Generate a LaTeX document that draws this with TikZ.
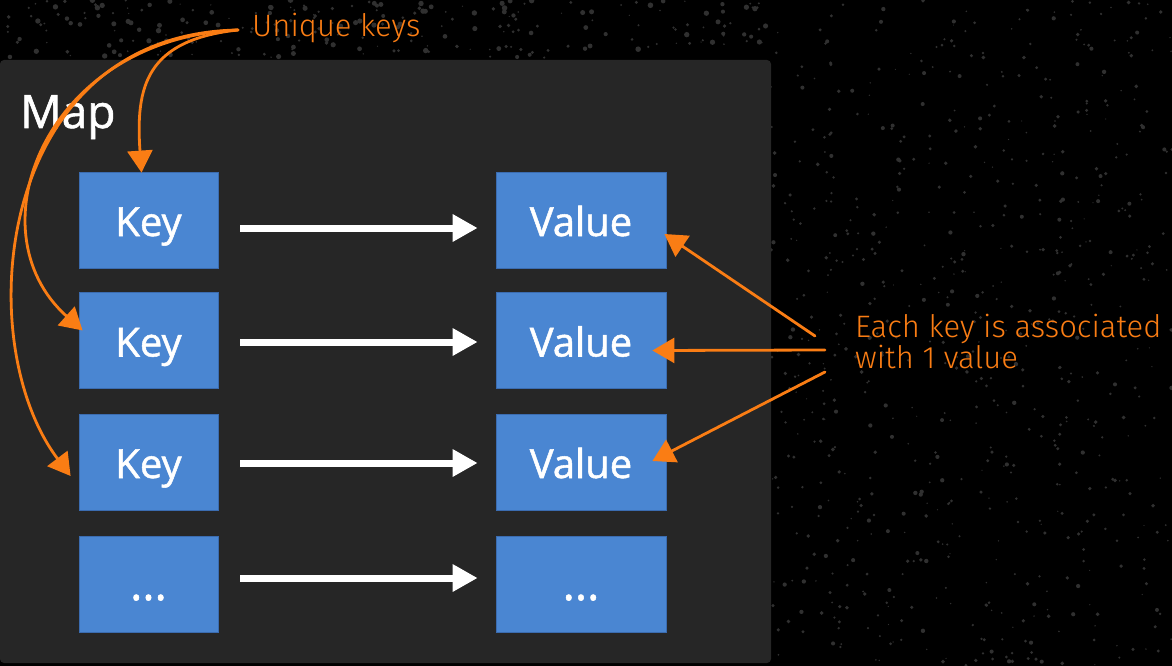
\documentclass[tikz,border=0pt]{standalone}
\usepackage{fontspec}
\setmainfont{Open Sans}[FakeBold=1.3]
\newfontfamily\hand{Fira Sans}[UprightFont=* Light]
\usetikzlibrary{arrows.meta,calc}
\definecolor{panelc}{HTML}{262626}
\definecolor{boxc}{HTML}{4A86D2}
\definecolor{boxedge}{HTML}{3B6CB0}
\definecolor{orng}{HTML}{FA7D14}
\definecolor{speck}{HTML}{303030}
\tikzset{
  x=1pt, y=-1pt,
  keybox/.style={fill=boxc, draw=boxedge, line width=0.8pt, minimum width=139pt, minimum height=96pt, inner sep=0pt, text=white, text height=32pt, text depth=0pt, font=\fontsize{40}{44}\selectfont},
  valbox/.style={keybox, minimum width=170pt},
  dotsfont/.style={font=\fontsize{46}{48}\selectfont},
  maparrow/.style={draw=white, line width=7pt, -{Triangle[length=25pt,width=26pt]}, shorten <=22pt, shorten >=18pt},
  handarrow/.style={draw=orng, line width=2.8pt, line cap=round, -{Triangle[length=22pt,width=25pt]}},
  handtext/.style={text=orng, font=\hand\fontsize{31}{26}\selectfont, inner sep=0pt, align=left}
}
\begin{document}
\begin{tikzpicture}
\fill[black] (0,0) rectangle (1172,666);
\useasboundingbox (0,0) rectangle (1172,666);
% speckle texture
\pgfmathsetseed{7}
\foreach \i in {1,...,700}{
  \pgfmathsetmacro{\px}{770+rnd*402}
  \pgfmathsetmacro{\py}{rnd*666}
  \pgfmathsetmacro{\pr}{0.6+rnd*1.6}
  \fill[speck] (\px,\py) circle[radius=\pr];
}
\foreach \i in {1,...,250}{
  \pgfmathsetmacro{\px}{rnd*770}
  \pgfmathsetmacro{\py}{rnd*58}
  \pgfmathsetmacro{\pr}{0.6+rnd*2.2}
  \fill[speck] (\px,\py) circle[radius=\pr];
}
% panel
\fill[panelc, rounded corners=4pt] (0,60) rectangle (771,663);
\node[anchor=base west, text=white, font=\fontsize{46}{50}\selectfont, inner sep=0pt] (map) at (20,128) {Map};
% boxes
\node[keybox] (k1) at (148.5,220) {Key};
\node[keybox] (k2) at (148.5,340.5) {Key};
\node[keybox] (k3) at (148.5,462) {Key};
\node[keybox, dotsfont] (k4) at (148.5,584) {...};
\node[valbox] (v1) at (581,220) {Value};
\node[valbox] (v2) at (581,340.5) {Value};
\node[valbox] (v3) at (581,462) {Value};
\node[valbox, dotsfont] (v4) at (581,584) {...};
\foreach \r/\s in {1/-8pt,2/-1.5pt,3/-1pt,4/6pt}{
  \draw[maparrow] ([yshift=\s]k\r.east) -- ([yshift=\s]v\r.west);
}
% labels
\node[handtext, anchor=base west] (uk) at (252,37) {Unique keys};
\node[handtext, anchor=base west] (each) at (855,368) {Each key is associated\\with 1 value};
\coordinate (ukstart) at (238,30);
\coordinate (e1) at (815,336);
\coordinate (e2) at (825,350);
\coordinate (e3) at (825,372);
% unique keys curves
\draw[handarrow] (ukstart) .. controls +(-92,10) and +(-6,-86) .. ([xshift=-7pt,yshift=-1pt]k1.north);
\draw[handarrow] (ukstart) .. controls +(-192,8) and +(-112,-100) .. ([xshift=4pt,yshift=10pt]k2.west);
\draw[handarrow] (ukstart) .. controls +(-242,4) and +(-102,-135) .. ([xshift=-8pt,yshift=-14pt]k3.west);
% association arrows
\draw[handarrow] (e1) -- ([xshift=-2pt,yshift=-14pt]v1.east);
\draw[handarrow] (e2) -- ([xshift=-14pt,yshift=-10pt]v2.east);
\draw[handarrow] (e3) -- ([xshift=-14pt,yshift=1pt]v3.east);
\end{tikzpicture}
\end{document}
